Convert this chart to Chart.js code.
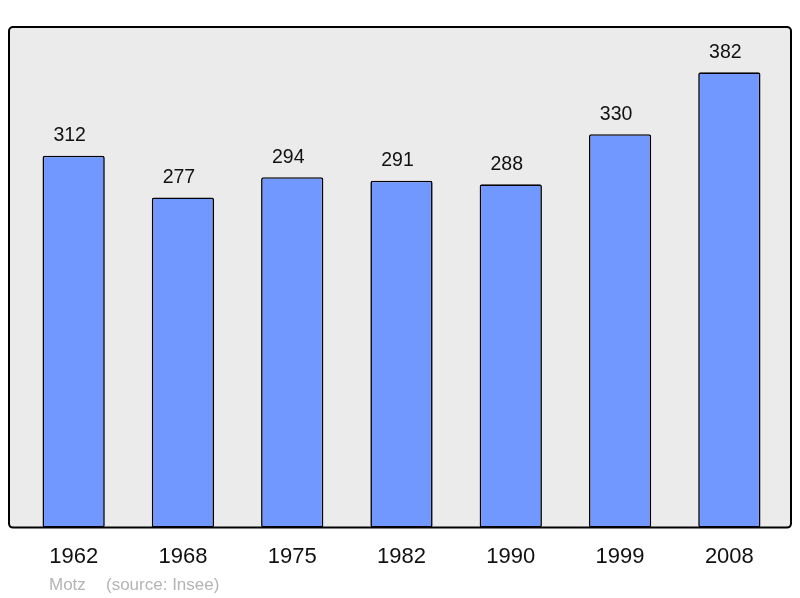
<!DOCTYPE html>
<html>
<head>
<meta charset="utf-8">
<script src="https://cdn.jsdelivr.net/npm/chart.js@4/dist/chart.umd.min.js"></script>
<style>
  html, body { margin: 0; padding: 0; background: #fff; }
  canvas { display: block; }
</style>
</head>
<body>
<canvas id="c" width="800" height="598"></canvas>
<script>
// population par recensement
const years = ['1962', '1968', '1975', '1982', '1990', '1999', '2008'];
const population = [312, 277, 294, 291, 288, 330, 382];
const footerText = ['Motz', '(source: Insee)'];

const FONT = '"Liberation Sans", Arial, sans-serif';

// fond gris + cadre noir autour de la zone de tracé
const frame = {
  id: 'frame',
  beforeDraw(chart) {
    const { ctx, chartArea: a } = chart;
    const x0 = a.left - 10, x1 = a.right + 7;
    const y0 = a.top, y1 = a.bottom;
    ctx.save();
    ctx.beginPath();
    ctx.roundRect(x0, y0, x1 - x0, y1 - y0, 4);
    ctx.fillStyle = '#ebebeb';
    ctx.fill();
    ctx.lineWidth = 2;
    ctx.strokeStyle = '#000';
    ctx.stroke();
    ctx.restore();
  },
};

// valeurs au-dessus des barres + mention en bas
const labels = {
  id: 'labels',
  afterDraw(chart) {
    const { ctx } = chart;
    const meta = chart.getDatasetMeta(0);
    ctx.save();
    ctx.font = '19.5px ' + FONT;
    ctx.fillStyle = '#111';
    ctx.textAlign = 'center';
    ctx.textBaseline = 'middle';
    meta.data.forEach((bar, i) => {
      ctx.fillText(String(population[i]), bar.x - 4, bar.y - 20);
    });
    ctx.font = '17px ' + FONT;
    ctx.fillStyle = '#b4b4b4';
    ctx.textAlign = 'left';
    ctx.fillText(footerText[0], 49, 585);
    ctx.fillText(footerText[1], 106, 585);
    ctx.restore();
  },
};

new Chart(document.getElementById('c'), {
  type: 'bar',
  data: {
    labels: years,
    datasets: [{
      data: population,
      backgroundColor: '#7098ff',
      borderColor: '#000',
      borderWidth: 1.6,
      borderRadius: 2,
      borderSkipped: false,
      barPercentage: 0.57,
      categoryPercentage: 1,
    }],
  },
  options: {
    responsive: false,
    animation: false,
    layout: { padding: { left: 19, right: 16, top: 27, bottom: 12 } },
    plugins: {
      legend: { display: false },
      tooltip: { enabled: false },
    },
    scales: {
      x: {
        grid: { display: false, drawTicks: false },
        border: { display: false },
        ticks: {
          color: '#111',
          padding: 16,
          font: { family: FONT, size: 22 },
        },
      },
      y: {
        display: false,
        min: 0,
        max: 420,
      },
    },
  },
  plugins: [frame, labels],
});
</script>
</body>
</html>
